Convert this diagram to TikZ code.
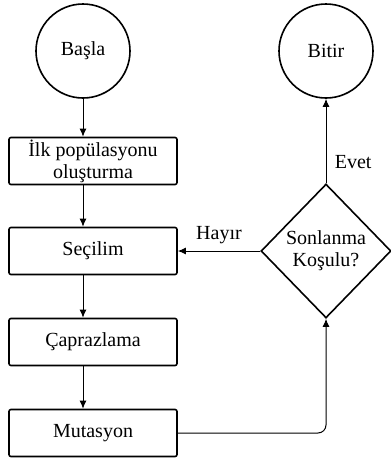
\documentclass[tikz,border=0pt]{standalone}
\usepackage{fontspec}
\setmainfont{Liberation Serif}
\usepackage{tikz}
\usetikzlibrary{arrows.meta,positioning,shapes.geometric}

\begin{document}
\begin{tikzpicture}[
  x=1pt,y=-1pt,
  font=\rmfamily\fontsize{20}{22}\selectfont,
  term/.style={draw,circle,line width=1.6pt,minimum size=94pt,inner sep=0pt},
  box/.style={draw,rounded corners=2pt,line width=1.6pt,minimum height=47pt,minimum width=168pt,align=center,inner sep=0pt},
  cond/.style={draw,diamond,line width=1.6pt,minimum width=130pt,minimum height=134pt,inner sep=0pt,align=center},
  arr/.style={-{Latex[length=8pt,width=7pt]},line width=1pt}
]
\useasboundingbox (0,0) rectangle (391,461);
\node[term] (basla) at (83,51) {Başla};
\node[term] (bitir) at (326,51) {Bitir};
\node[box] (ilk) at (93,161) {İlk popülasyonu\\oluşturma};
\node[box] (secilim) at (93,251) {Seçilim};
\node[box] (capraz) at (93,342) {Çaprazlama};
\node[box] (mutasyon) at (93,433) {Mutasyon};
\node[cond] (karar) at (326,251) {Sonlanma\\Koşulu?};
\draw[arr] (basla.south) -- (ilk.north -| basla.south);
\draw[arr] (ilk.south -| basla.south) -- (secilim.north -| basla.south);
\draw[arr] (secilim.south -| basla.south) -- (capraz.north -| basla.south);
\draw[arr] (capraz.south -| basla.south) -- (mutasyon.north -| basla.south);
\draw[arr,rounded corners=8pt] (mutasyon.east) -| (karar.south);
\draw[arr] (karar.west) -- node[above=3pt] {Hayır} (secilim.east);
\draw[arr] (karar.north) -- node[pos=0.25,right=5pt] {Evet} (bitir.south);
\end{tikzpicture}
\end{document}
